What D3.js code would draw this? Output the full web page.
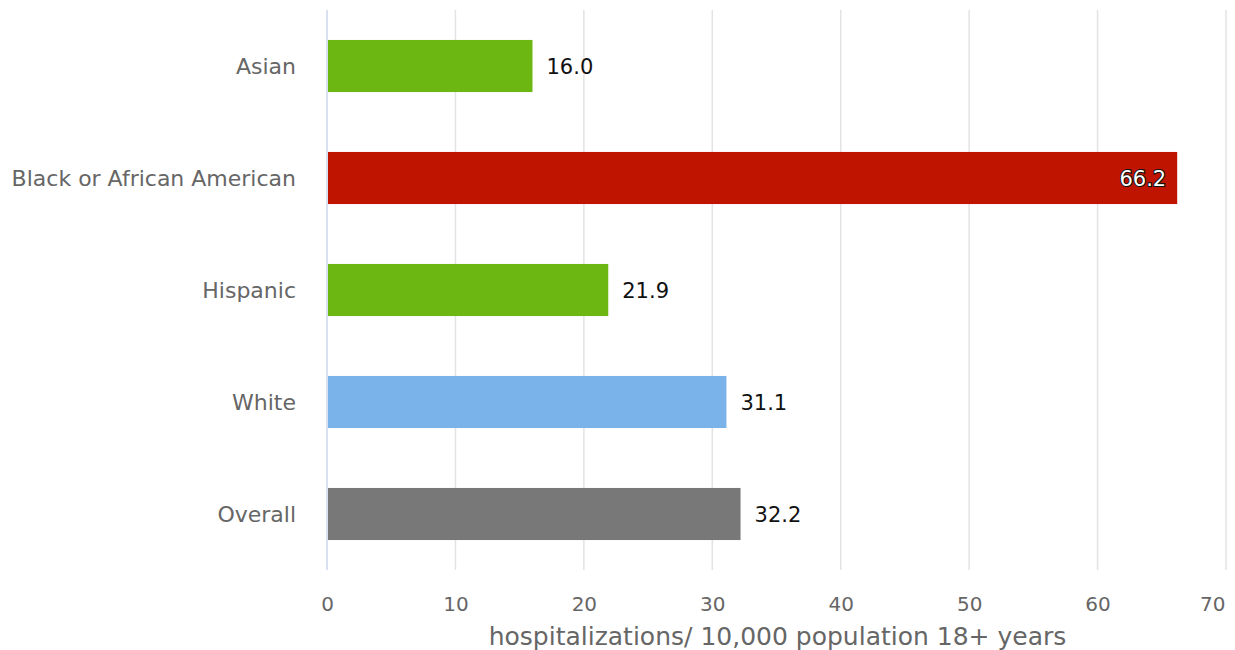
<!DOCTYPE html>
<html><head><meta charset="utf-8">
<script src="https://cdn.jsdelivr.net/npm/d3@7"></script>
<style>body{margin:0;background:#fff}svg{display:block}</style>
</head><body>
<svg id="c" width="1235" height="650"></svg>
<script>
const categories = ["Asian","Black or African American","Hispanic","White","Overall"];
const values = [16.0, 66.2, 21.9, 31.1, 32.2];
const barColor = ["#6cb712","#be1400","#6cb712","#7ab3e9","#787878"];
const xTicks = [0,10,20,30,40,50,60,70];
const xTitle = "hospitalizations/ 10,000 population 18+ years";

const svg = d3.select("#c");
const font = "'DejaVu Sans', sans-serif";
const m = {left:327, right:1226, top:10, bottom:570};
const x = d3.scaleLinear().domain([0,70]).range([m.left, m.right]);
const y = d3.scaleBand().domain(categories).range([m.top, m.bottom]).paddingInner(0.535).paddingOuter(0.2675);

// grid
svg.append("g").selectAll("line").data(xTicks.slice(1)).join("line")
  .attr("x1", d=>x(d)).attr("x2", d=>x(d)).attr("y1", m.top).attr("y2", m.bottom)
  .attr("stroke","#e3e3e3").attr("stroke-width",1.5);
svg.append("line").attr("x1",x(0)).attr("x2",x(0)).attr("y1",m.top).attr("y2",m.bottom)
  .attr("stroke","#ccd6eb").attr("stroke-width",1.5);

// bars
svg.append("g").selectAll("rect").data(categories).join("rect")
  .attr("x", x(0)+1).attr("y", d=>y(d)).attr("height", y.bandwidth())
  .attr("width", (d,i)=>x(values[i])-x(0)-1).attr("fill",(d,i)=>barColor[i]);

// category labels
svg.append("g").selectAll("text").data(categories).join("text")
  .attr("x", m.left-31).attr("y", d=>y(d)+y.bandwidth()/2).attr("dy","0.36em")
  .attr("text-anchor","end").attr("font-family",font).attr("font-size",22)
  .attr("fill","#666").text(d=>d);

// value labels
const lab = svg.append("g").selectAll("text").data(categories).join("text")
  .attr("y", d=>y(d)+y.bandwidth()/2).attr("dy","0.36em")
  .attr("font-family",font).attr("font-size",21)
  .text((d,i)=>d3.format(".1f")(values[i]));
lab.each(function(d,i){
  const t = d3.select(this);
  if (values[i] > 60) {
    t.attr("x", x(values[i])-11).attr("text-anchor","end").attr("fill","#fff")
     .attr("stroke","#111").attr("stroke-width",2.2).attr("paint-order","stroke");
  } else {
    t.attr("x", x(values[i])+14).attr("text-anchor","start").attr("fill","#111");
  }
});

// x axis
const xAxis = d3.axisBottom(x).tickValues(xTicks).tickSize(0).tickPadding(0);
const gx = svg.append("g").attr("transform",`translate(0,604)`).call(xAxis);
gx.select(".domain").remove();
gx.selectAll("text").attr("font-family",font).attr("font-size",20).attr("fill","#666").attr("dy","0.36em");
gx.selectAll(".tick").filter(d=>d===70).select("text").attr("text-anchor","end").attr("x",-1);

svg.append("text").attr("x", (x(0)+x(70))/2+1).attr("y",636).attr("dy","0.36em")
  .attr("text-anchor","middle").attr("font-family",font).attr("font-size",25)
  .attr("fill","#666").text(xTitle);
</script>
</body></html>
